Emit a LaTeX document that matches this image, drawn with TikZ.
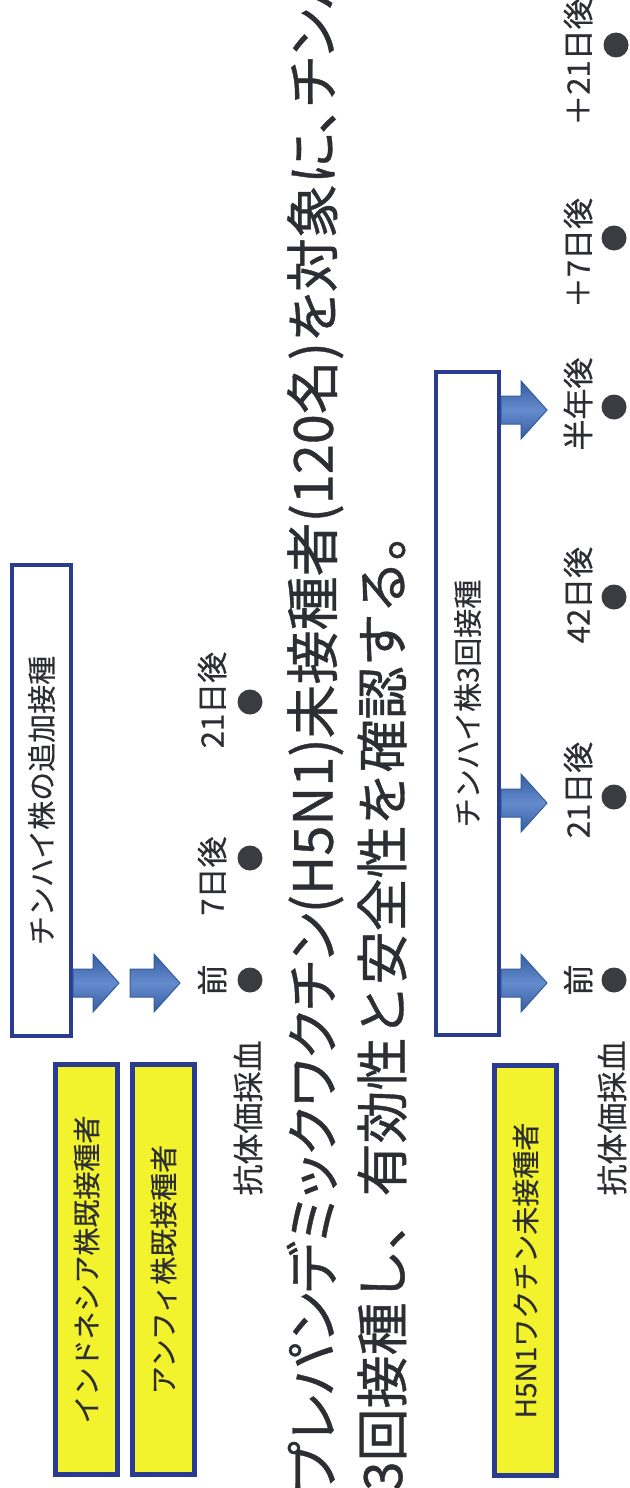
\documentclass[tikz,border=0pt]{standalone}
\usepackage{fontspec}
\setmainfont{Noto Sans CJK JP}
\newfontfamily\jpp[RawFeature=+palt, FakeBold=0.7]{Noto Sans CJK JP}
\newfontfamily\jpt[FakeBold=0.7]{Noto Sans CJK JP}
\newfontfamily\jpl[FakeBold=0.6]{Noto Sans CJK JP}
\newfontfamily\jpb[FakeBold=0.3]{Noto Sans CJK JP}
\definecolor{boxblue}{RGB}{42,60,145}
\definecolor{ylw}{RGB}{242,242,45}
\definecolor{txt}{RGB}{45,46,52}
\definecolor{dotgray}{RGB}{58,60,66}
\definecolor{arrdark}{RGB}{52,92,160}
\definecolor{arrlight}{RGB}{100,140,205}
\tikzset{
  ybox/.style={draw=boxblue, line width=5pt, fill=ylw, rotate=90, inner sep=0pt,
    minimum width=410pt, minimum height=62pt, text=txt, font=\jpb\fontsize{28}{30}\selectfont},
  wbox/.style={draw=boxblue, line width=4pt, fill=white, rotate=90, inner sep=0pt,
    text=txt, font=\jpb\fontsize{29}{31}\selectfont},
  lbl/.style={rotate=90, inner sep=0pt, text=txt, font=\jpl\fontsize{31}{33}\selectfont},
  dot/.style={circle, fill=dotgray, minimum size=25pt, inner sep=0pt},
  title/.style={rotate=90, inner sep=0pt, anchor=west, text=txt},
  blockarrow/.style={draw=arrdark, line width=1pt, top color=arrdark, bottom color=arrdark, middle color=arrlight}
}
\newcommand\barrow[3]{% x0, y, tip x
  \path[blockarrow] (#1,#2-14) -- (#3-26,#2-14) -- (#3-26,#2-29) -- (#3,#2)
    -- (#3-26,#2+29) -- (#3-26,#2+14) -- (#1,#2+14) -- cycle;}
\begin{document}
\begin{tikzpicture}[x=1pt,y=-1pt]
\useasboundingbox (0,0) rectangle (629,1488);
\clip (0,0) rectangle (629,1488);
\fill[white] (0,0) rectangle (629,1488);

% title lines
\node[title, font=\jpp\fontsize{54}{56}\selectfont] (t1) at (315,1492)
  {プレパンデミックワクチン(H5N1)未接種者(120名)を対象に、チンハ};
\node[title, font=\jpt\fontsize{53}{55}\selectfont] (t2) at (382,1491)
  {3回接種し、有効性と安全性を確認する。};

% yellow boxes
\node[ybox] (g1) at (86.5,1269.5) {インドネシア株既接種者};
\node[ybox] (g2) at (163.5,1269.5) {アンフィ株既接種者};
\node[ybox] (g3) at (525.5,1270.5) {H5N1ワクチン未接種者};

% white boxes
\node[wbox, minimum width=471pt, minimum height=59pt] (v1) at (41.5,800.5) {チンハイ株の追加接種};
\node[wbox, minimum width=663pt, minimum height=63pt] (v2) at (467.5,703.5) {チンハイ株3回接種};

% arrows
\barrow{73}{983}{119}
\barrow{130}{983}{180}
\barrow{501}{983}{547}
\barrow{501}{803}{547}
\barrow{501}{410}{547}

% upper timeline
\node[lbl] (s1) at (248,1118) {抗体価採血};
\node[lbl] (a1) at (212,980) {前};
\node[dot] (p1) at (250,980) {};
\node[lbl] (a2) at (212,876) {7日後};
\node[dot] (p2) at (250,858) {};
\node[lbl] (a3) at (212,700) {21日後};
\node[dot] (p3) at (250,702) {};

% lower timeline
\node[lbl] (s2) at (612,1118) {抗体価採血};
\node[lbl] (b1) at (578,980) {前};
\node[dot] (q1) at (614,980) {};
\node[lbl] (b2) at (578,790) {21日後};
\node[dot] (q2) at (614,797) {};
\node[lbl] (b3) at (578,595) {42日後};
\node[dot] (q3) at (614,597) {};
\node[lbl] (b4) at (578,404) {半年後};
\node[dot] (q4) at (614,407) {};
\node[lbl] (b5) at (578,253) {＋7日後};
\node[dot] (q5) at (614,238) {};
\node[lbl] (b6) at (578,62) {＋21日後};
\node[dot] (q6) at (616,45) {};
\end{tikzpicture}
\end{document}
